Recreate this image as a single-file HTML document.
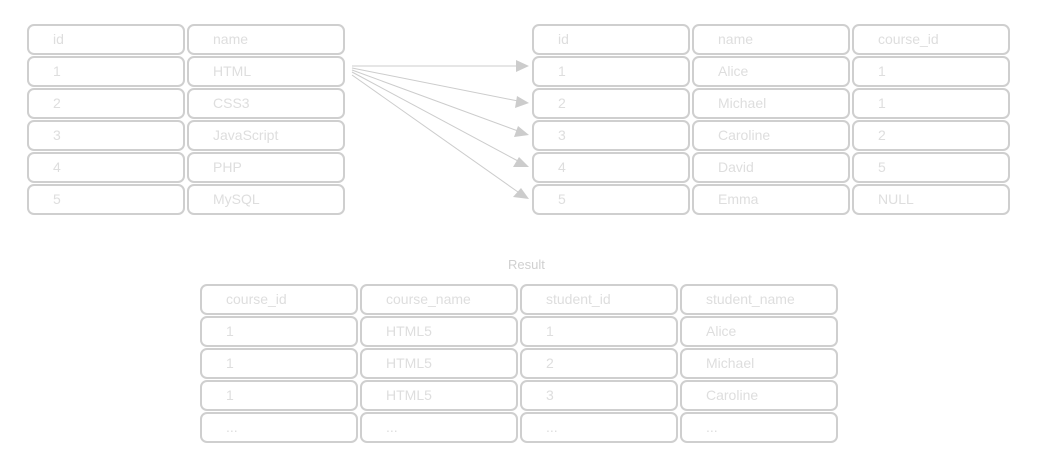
<!DOCTYPE html>
<html><head><style>
body{margin:0;width:1044px;height:472px;background:#fff;position:relative;overflow:hidden;font-family:"Liberation Sans",sans-serif;}
.c{position:absolute;box-sizing:border-box;border:2px solid #cfcfcf;border-radius:7px;height:31px;color:#dedede;font-size:14px;line-height:27px;padding-left:24px;}
.r{position:absolute;left:508px;top:257px;color:#d0d0d0;font-size:13px;}
</style></head><body>
<div id="t"></div>
<div class="r">Result</div>
<svg width="1044" height="472" style="position:absolute;left:0;top:0">
<g stroke="#cccccc" stroke-width="1" fill="none">
<line x1="352" y1="66" x2="518" y2="66"/>
<line x1="352" y1="68" x2="518" y2="101"/>
<line x1="352" y1="70" x2="518" y2="131"/>
<line x1="352" y1="72" x2="518" y2="161"/>
<line x1="352" y1="75" x2="518" y2="192"/>
</g>
<g fill="#cccccc">
<polygon points="529,66 516,60 516,72"/>
<polygon points="529,103 517,96 515,108"/>
<polygon points="529,135 518,126 514,137"/>
<polygon points="529,167 519,157 513,167"/>
<polygon points="529,199 521,188 513,197"/>
</g>
</svg>
<script>
function tbl(xs,w,y0,rows){let h='';rows.forEach((r,i)=>r.forEach((t,j)=>{h+=`<div class="c" style="left:${xs[j]}px;top:${y0+i*32}px;width:${w}px">${t}</div>`}));document.getElementById('t').insertAdjacentHTML('beforeend',h);}
tbl([27,187],158,24,[['id','name'],['1','HTML'],['2','CSS3'],['3','JavaScript'],['4','PHP'],['5','MySQL']]);
tbl([532,692,852],158,24,[['id','name','course_id'],['1','Alice','1'],['2','Michael','1'],['3','Caroline','2'],['4','David','5'],['5','Emma','NULL']]);
tbl([200,360,520,680],158,284,[['course_id','course_name','student_id','student_name'],['1','HTML5','1','Alice'],['1','HTML5','2','Michael'],['1','HTML5','3','Caroline'],['...','...','...','...']]);
</script>
</body></html>
